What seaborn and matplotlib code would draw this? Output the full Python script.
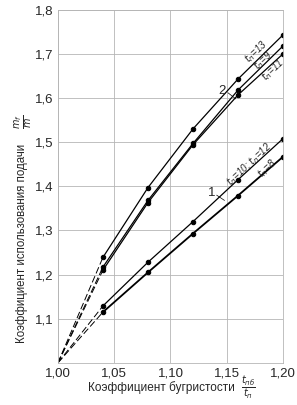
import matplotlib
matplotlib.use("Agg")
import matplotlib.pyplot as plt
import seaborn as sns
import pandas as pd

# Data
x_pts = [1.00, 1.04, 1.08, 1.12, 1.16, 1.20]
t13 = [1.00, 1.239, 1.397, 1.530, 1.643, 1.743]
t9 = [1.00, 1.217, 1.368, 1.497, 1.618, 1.718]
t11 = [1.00, 1.210, 1.363, 1.494, 1.607, 1.700]
t10_12 = [1.00, 1.129, 1.228, 1.320, 1.415, 1.508]
t8 = [1.00, 1.115, 1.205, 1.293, 1.379, 1.467]

series = {"t13": t13, "t9": t9, "t11": t11, "t10_12": t10_12, "t8": t8}
widths = {"t13": 0.9, "t9": 0.9, "t11": 0.9, "t10_12": 0.9, "t8": 1.3}

x_ticks = [1.00, 1.05, 1.10, 1.15, 1.20]
x_ticklabels = ["1,00", "1,05", "1,10", "1,15", "1,20"]
y_ticks = [1.0, 1.1, 1.2, 1.3, 1.4, 1.5, 1.6, 1.7, 1.8]
y_ticklabels = ["", "1,1", "1,2", "1,3", "1,4", "1,5", "1,6", "1,7", "1,8"]

rows = []
for name, vals in series.items():
    for xv, yv in zip(x_pts, vals):
        rows.append({"series": name, "x": xv, "y": yv})
df = pd.DataFrame(rows)

sns.set_theme(style="white")
plt.rcParams['font.family'] = ['Liberation Sans', 'DejaVu Sans']
plt.rcParams['mathtext.fontset'] = 'dejavusans'

fig = plt.figure(figsize=(2.97, 4.05), dpi=100)
ax = fig.add_axes([0.195, 0.104, 0.758, 0.872])

for name in series:
    d = df[df["series"] == name]
    head = d[d["x"] <= 1.04]
    tail = d[d["x"] >= 1.04]
    sns.lineplot(data=head, x="x", y="y", ax=ax, color="black", lw=0.7,
                 linestyle=(0, (7, 3)), sort=False)
    sns.lineplot(data=tail, x="x", y="y", ax=ax, color="black",
                 lw=widths[name], marker="o", markersize=3.2,
                 markeredgecolor="black", sort=False)

ax.set_xlim(1.00, 1.20)
ax.set_ylim(1.0, 1.8)
ax.set_xticks(x_ticks)
ax.set_xticklabels(x_ticklabels, fontsize=9.5)
ax.set_yticks(y_ticks)
ax.set_yticklabels(y_ticklabels, fontsize=9.5)
ax.tick_params(length=0, pad=3)
ax.grid(True, color="#b5b5b5", lw=0.6)
for s in ax.spines.values():
    s.set_color("#b5b5b5")
    s.set_linewidth(0.6)
ax.set_xlabel("")
ax.set_ylabel("")

# curve labels
ax.text(1.146, 1.616, "2", fontsize=9.5, ha="center", va="center")
ax.plot([1.151, 1.158], [1.612, 1.598], color="black", lw=0.5)
ax.text(1.137, 1.384, "1", fontsize=9.5, ha="center", va="center")
ax.plot([1.141, 1.148], [1.380, 1.368], color="black", lw=0.5)

lab_kw = dict(fontsize=7, rotation=43, ha="center", va="center",
              rotation_mode="anchor", style="italic")
ax.text(1.176, 1.705, r"$t_п$=13", **lab_kw)
ax.text(1.182, 1.685, r"$t_п$=9", **lab_kw)
ax.text(1.191, 1.664, r"$t_п$=11", **lab_kw)
ax.text(1.170, 1.449, r"$t_п$=10; $t_п$=12", **lab_kw)
ax.text(1.186, 1.440, r"$t_п$=8", **lab_kw)

fig.text(0.545, 0.043, "Коэффициент бугристости",
         fontsize=8.5, ha="center", va="center")
fig.text(0.837, 0.043, r"$\frac{t_{пб}}{t_п}$",
         fontsize=10, ha="center", va="center")
fig.text(0.075, 0.40, "Коэффициент использования подачи",
         fontsize=8.3, ha="center", va="center", rotation=90)
fig.text(0.08, 0.70, r"$\frac{m_f}{m}$",
         fontsize=10, ha="center", va="center", rotation=90)

fig.savefig("out.png", dpi=100)
